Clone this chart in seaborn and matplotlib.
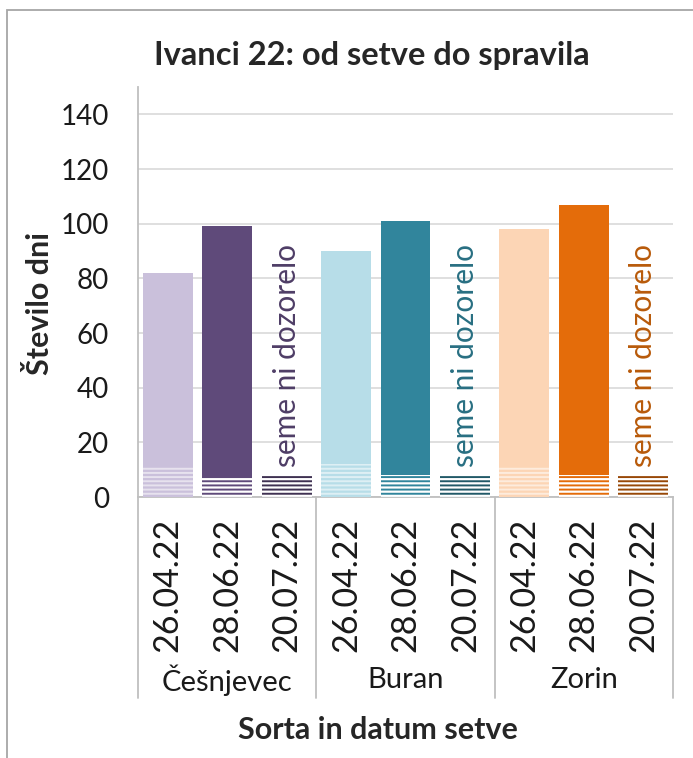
import numpy as np
import pandas as pd
import matplotlib
matplotlib.use("Agg")
import matplotlib.pyplot as plt
from matplotlib.lines import Line2D
from matplotlib.patches import Rectangle
import seaborn as sns

# ---- data ----
sorte = ["Češnjevec", "Buran", "Zorin"]
datumi = ["26.04.22", "28.06.22", "20.07.22"]
do_spravila = [82, 99, np.nan, 90, 101, np.nan, 98, 107, np.nan]   # total days
do_vznika = [11, 7, 8, 12, 8, 8, 11, 8, 8]                          # lower (hatched) segment
opomba = "seme ni dozorelo"

# colours
light = ["#CAC0DB", "#B7DDE8", "#FCD5B5"]
dark = ["#5F4A7A", "#31859C", "#E46C0A"]
darker = ["#3F3152", "#215968", "#984807"]
note_cols = ["#4E3D66", "#286F82", "#B85A0A"]

sns.set_theme(style="white")
plt.rcParams["font.family"] = ["Lato", "DejaVu Sans"]
plt.rcParams["hatch.linewidth"] = 1.4

W, H = 693, 758
fig = plt.figure(figsize=(W / 100, H / 100), dpi=100)
ax = fig.add_axes([138 / W, 1 - 497 / H, (673 - 138) / W, (497 - 87) / H])

keys = [f"{s}|{d}" for s in sorte for d in datumi]
df = pd.DataFrame({"key": keys, "skupaj": do_spravila, "vznik": do_vznika})
df["skupaj"] = df["skupaj"].fillna(0)

fill_cols = []
for i, s in enumerate(sorte):
    fill_cols += [light[i], dark[i], darker[i]]

sns.barplot(data=df, x="key", y="skupaj", hue="key", palette=fill_cols,
            order=keys, hue_order=keys, width=0.84, legend=False,
            saturation=1, ax=ax, zorder=3, linewidth=0)
n_top = len(ax.patches)
sns.barplot(data=df, x="key", y="vznik", hue="key", palette=fill_cols,
            order=keys, hue_order=keys, width=0.84, legend=False,
            saturation=1, ax=ax, zorder=4, linewidth=0)

base_patches = ax.patches[n_top:]
for j, p in enumerate(base_patches):
    g, k = divmod(j, 3)
    if k == 0:
        p.set_facecolor(light[g])
        p.set_edgecolor((1, 1, 1, 0.55))
    elif k == 1:
        p.set_facecolor("white")
        p.set_edgecolor(dark[g])
    else:
        p.set_facecolor("white")
        p.set_edgecolor(darker[g])
    p.set_hatch("----")
    p.set_linewidth(0)

ax.set_ylim(0, 150)
ax.set_xlim(-0.5, 8.5)
ax.set_yticks(np.arange(0, 141, 20))
ax.yaxis.grid(True, color="#D9D9D9", linewidth=1.2, zorder=0)
ax.set_axisbelow(True)
ax.tick_params(axis="y", length=0, pad=21, labelsize=20, labelcolor="#1a1a1a")
ax.set_xticks(range(9))
ax.set_xticklabels(datumi * 3, rotation=90, fontsize=24.5)
ax.tick_params(axis="x", length=0, pad=15, labelcolor="#1a1a1a")
for lbl in ax.get_xticklabels():
    lbl.set_va("top")
ax.set_xlabel("")
ax.set_ylabel("")
for side in ["top", "right"]:
    ax.spines[side].set_visible(False)
for side in ["left", "bottom"]:
    ax.spines[side].set_color("#BFBFBF")
    ax.spines[side].set_linewidth(1.3)

# "seme ni dozorelo" notes
for g in range(3):
    ax.text(g * 3 + 2, 11, opomba, rotation=90, ha="center", va="bottom",
            fontsize=21.5, color=note_cols[g], zorder=5)

# group separators and group labels
trans = ax.get_xaxis_transform()
for xs in [-0.5, 2.5, 5.5, 8.5]:
    ax.add_line(Line2D([xs, xs], [0, -201 / 410], transform=trans,
                       color="#BFBFBF", linewidth=1.3, clip_on=False))
for g, s in enumerate(sorte):
    ax.text(g * 3 + 1, -183 / 410, s, transform=trans, ha="center",
            va="center", fontsize=21, color="#1a1a1a")

# titles
fig.text(372 / W, 1 - 55 / H, "Ivanci 22: od setve do spravila",
         ha="center", va="center", fontsize=23.5, fontweight="bold")
fig.text(40 / W, 1 - 303 / H, "Število dni", rotation=90,
         ha="center", va="center", fontsize=22, fontweight="bold")
fig.text(378 / W, 1 - 730 / H, "Sorta in datum setve",
         ha="center", va="center", fontsize=22, fontweight="bold")

# chart border
fig.patches.append(Rectangle((7 / W, -0.05), 1.1, 1 - 10 / H + 0.05,
                             transform=fig.transFigure, fill=False,
                             edgecolor="#A6A6A6", linewidth=1.3))

fig.savefig("out.png", dpi=100, facecolor="white")
